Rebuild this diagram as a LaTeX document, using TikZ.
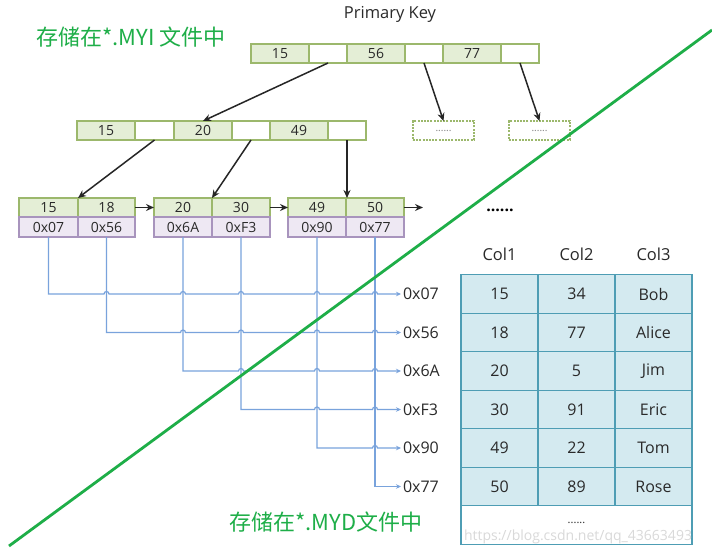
\documentclass[tikz,border=0pt]{standalone}
\usepackage{fontspec}
\setmainfont{Open Sans}
\newfontfamily\cjk{Noto Sans CJK SC}
\usetikzlibrary{arrows.meta,calc}
\definecolor{gfill}{HTML}{E4EED6}
\definecolor{gborder}{HTML}{9CB86C}
\definecolor{pfill}{HTML}{EEE8F3}
\definecolor{pborder}{HTML}{A894BD}
\definecolor{tfill}{HTML}{D4EAF0}
\definecolor{tborder}{HTML}{4E9DB4}
\definecolor{txt}{HTML}{2A2A2A}
\definecolor{bline}{HTML}{79A3DC}
\definecolor{gline}{HTML}{1EAE48}
\tikzset{
  cellbase/.style={line width=1.2pt, minimum height=19pt, inner sep=0pt, outer sep=0pt, text=txt, font=\fontsize{14}{14}\selectfont},
  gcell/.style={cellbase, draw=gborder, fill=gfill},
  wcell/.style={cellbase, draw=gborder, fill=white},
  pcell/.style={cellbase, draw=pborder, fill=pfill, minimum height=20pt},
  dbox/.style={cellbase, draw=gborder, fill=white, dash pattern=on 2pt off 1.2pt, minimum width=61pt, font=\fontsize{10}{10}\selectfont, text=gray},
  tcell/.style={draw=tborder, fill=tfill, line width=1.2pt, minimum width=77pt, minimum height=38.5pt, inner sep=0pt, outer sep=0pt, text=txt, font=\fontsize{16}{16}\selectfont},
  barrow/.style={-{Stealth[length=8pt,width=7pt]}, line width=1.5pt, black!85},
  blueline/.style={draw=bline, line width=1.2pt, -{Stealth[length=5pt,width=4.5pt]}},
  addr/.style={anchor=west, inner sep=2pt, outer sep=0pt, text=txt, font=\fontsize{16}{16}\selectfont},
  gtext/.style={text=gline, font=\cjk\fontsize{22}{22}\selectfont},
  lbl/.style={text=txt, font=\fontsize{16.5}{16.5}\selectfont}
}
\begin{document}
\begin{tikzpicture}[x=1pt,y=-1pt]
\useasboundingbox[fill=white] (0,0) rectangle (712,557);

% titles
\node[lbl] (pk) at (390,14) {Primary Key};
\node[gtext] (myi) at (131,37) {存储在*.MYI 文件中};
\node[gtext] (myd) at (326,522) {存储在*.MYD文件中};

% top row
\node[gcell, minimum width=58pt] (t1) at (280,53.5) {15};
\node[wcell, minimum width=38pt] (t2) at (328,53.5) {};
\node[gcell, minimum width=58pt] (t3) at (376,53.5) {56};
\node[wcell, minimum width=38pt] (t4) at (424,53.5) {};
\node[gcell, minimum width=58pt] (t5) at (472,53.5) {77};
\node[wcell, minimum width=38pt] (t6) at (520,53.5) {};

% middle row
\node[gcell, minimum width=58pt] (m1) at (106,130.5) {15};
\node[wcell, minimum width=39pt] (m2) at (154.5,130.5) {};
\node[gcell, minimum width=58pt] (m3) at (203,130.5) {20};
\node[wcell, minimum width=38pt] (m4) at (251,130.5) {};
\node[gcell, minimum width=58pt] (m5) at (299,130.5) {49};
\node[wcell, minimum width=38pt] (m6) at (347,130.5) {};
\node[dbox] (d1) at (443.5,130.5) {......};
\node[dbox] (d2) at (539.5,130.5) {......};

% leaves
\foreach \i/\x/\w/\k/\p in {1/48.5/59/15/0x07, 2/106.5/57/18/0x56, 3/183/58/20/0x6A, 4/241/58/30/0xF3, 5/317/58/49/0x90, 6/375/58/50/0x77}{
  \node[gcell, minimum width=\w pt] (k\i) at (\x,207.5) {\k};
  \node[pcell, minimum width=\w pt] (p\i) at (\x,227) {\p};
}
\node[font=\bfseries\fontsize{16}{16}\selectfont, text=black] (dots) at (500,210) {......};
\coordinate (lend) at (423,207.5);

% black arrows
\draw[barrow] (t2.south) -- (m3.north);
\draw[barrow] (t4.south) -- (d1.north);
\draw[barrow] (t6.south) -- (d2.north);
\draw[barrow] (m2.south) -- (k2.north west);
\draw[barrow] (m4.south) -- (k4.north west);
\draw[barrow] (m6.south) -- (m6.south |- k6.north);
\draw[barrow] (k2.east) -- (k3.west);
\draw[barrow] (k4.east) -- (k5.west);
\draw[barrow] (k6.east) -- (lend);

% table
\node[lbl] (h1) at (499.5,254) {Col1};
\node[lbl] (h2) at (576.5,254) {Col2};
\node[lbl] (h3) at (653.5,254) {Col3};
\foreach \a/\b/\c [count=\i] in {15/34/Bob, 18/77/Alice, 20/5/Jim, 30/91/Eric, 49/22/Tom, 50/89/Rose}{
  \node[tcell] (r\i c1) at (499.5,{294+38.5*(\i-1)}) {\a};
  \node[tcell] (r\i c2) at (576.5,{294+38.5*(\i-1)}) {\b};
  \node[tcell] (r\i c3) at (653.5,{294+38.5*(\i-1)}) {\c};
}
\node[tcell, fill=white, minimum width=231pt] (rlast) at (576.5,525) {};
\node[text=txt, font=\fontsize{11}{11}\selectfont] (ldots) at (576.5,523) {......};
\node[text=gray!30, font=\fontsize{14}{14}\selectfont] (wm) at (578,537) {https://blog.csdn.net/qq\_43663493};

% address labels
\foreach \i/\t in {1/0x07, 2/0x56, 3/0x6A, 4/0xF3, 5/0x90, 6/0x77}{
  \node[addr] (a\i) at (401,{294+38.5*(\i-1)}) {\t};
}

% blue pointer lines with hops
\foreach \i/\y/\hops in {1/294/{106.5,183,241,317,375}, 2/332.5/{183,241,317,375}, 3/371/{241,317,375}, 4/409.5/{317,375}, 5/448/{375}}{
  \draw[blueline] (p\i.south) -- (p\i.south |- a\i.west)
    \foreach \h in \hops { -- (\h-2.5,\y) arc[start angle=180, end angle=0, radius=2.5pt] } -- (a\i.west);
}
\draw[blueline] (p6.south) -- (p6.south |- a6.west) -- (a6.west);

% green diagonal
\coordinate (gA) at (9,546);
\coordinate (gB) at (712,30);
\draw[gline, line width=2.8pt] (gA) -- (gB);
\end{tikzpicture}
\end{document}
